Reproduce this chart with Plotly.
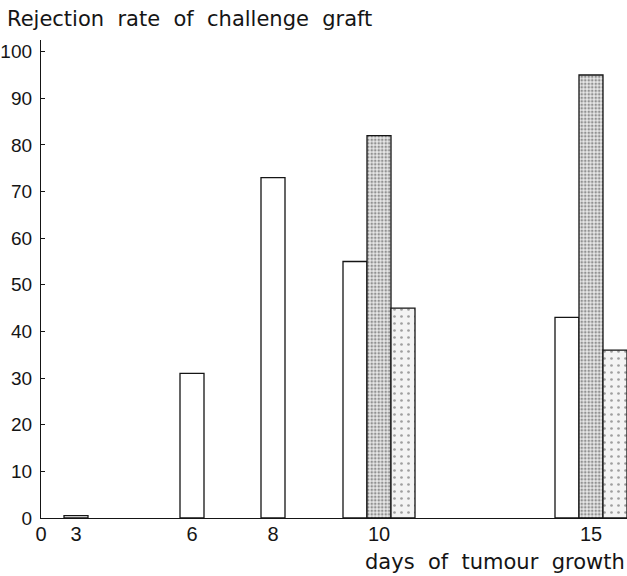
import plotly.graph_objects as go

# ---- data ----
days = ["3", "6", "8", "10", "15"]
rate_white = [0.5, 31, 73, 55, 43]          # open bars
days_dotted = ["10", "15"]
rate_dotted = [82, 95]                      # fine dotted bars
days_speckled = ["10", "15"]
rate_speckled = [45, 36]                    # speckled bars
y_ticks = [0, 10, 20, 30, 40, 50, 60, 70, 80, 90, 100]

# ---- layout of the (non-linear) day axis ----
slot = {"0": 0, "3": 35, "6": 151, "8": 232, "10": 338, "15": 550}
bw = 24
multi = set(days_dotted) | set(days_speckled)

x_white = [slot[d] - (bw if d in multi else 0) for d in days]
x_dotted = [slot[d] for d in days_dotted]
x_speck = [slot[d] + bw for d in days_speckled]

FONT = "Liberation Sans"
TFONT = "DejaVu Sans"
INK = "#151515"
GAP = "\u00a0 "

fig = go.Figure()
fig.add_trace(go.Bar(
    x=x_white, y=rate_white, width=bw,
    marker=dict(color="white", line=dict(color=INK, width=1.3)),
    showlegend=False))
fig.add_trace(go.Bar(
    x=x_dotted, y=rate_dotted, width=bw,
    marker=dict(color="white", line=dict(color=INK, width=1.3),
                pattern=dict(shape=".", size=3.5, solidity=0.45,
                             fgcolor="#3a3a3a", bgcolor="#e8e8e8")),
    showlegend=False))
fig.add_trace(go.Bar(
    x=x_speck, y=rate_speckled, width=bw,
    marker=dict(color="white", line=dict(color=INK, width=1.3),
                pattern=dict(shape=".", size=7, solidity=0.12,
                             fgcolor="#4a4a4a", bgcolor="#f3f3f3")),
    showlegend=False))

fig.update_layout(
    width=627, height=576,
    margin=dict(l=41, r=0, t=40, b=58, autoexpand=False),
    paper_bgcolor="white", plot_bgcolor="white",
    barmode="overlay",
    font=dict(family=FONT, size=19, color=INK),
    xaxis=dict(range=[0, 586], showgrid=False, zeroline=False,
               showline=True, linecolor=INK, linewidth=1.3,
               tickmode="array", tickvals=list(slot.values()),
               ticktext=list(slot.keys()), ticks="",
               automargin=False, ticklabelstandoff=-2,
               tickfont=dict(size=20, family=FONT, color=INK)),
    yaxis=dict(range=[0, 102.5], showgrid=False, zeroline=False,
               showline=True, linecolor=INK, linewidth=1.3,
               tickmode="array", tickvals=y_ticks, ticks="inside",
               ticklen=4, tickcolor=INK, automargin=False,
               ticklabelstandoff=4,
               tickfont=dict(size=19, family=FONT, color=INK)),
    annotations=[
        dict(text=GAP.join(["Rejection", "rate", "of", "challenge", "graft"]),
             xref="paper", yref="paper", x=-0.0614, y=1.0446,
             xanchor="left", yanchor="middle", showarrow=False,
             font=dict(size=21, family=TFONT, color=INK)),
        dict(text=GAP.join(["days", "of", "tumour", "growth"]),
             xref="paper", yref="paper", x=1.0, y=-0.092,
             xanchor="right", yanchor="middle", showarrow=False,
             font=dict(size=21, family=TFONT, color=INK)),
    ],
)

fig.write_html("out.html",
               config={"displayModeBar": False},
               post_script="document.body.style.margin='0';")
